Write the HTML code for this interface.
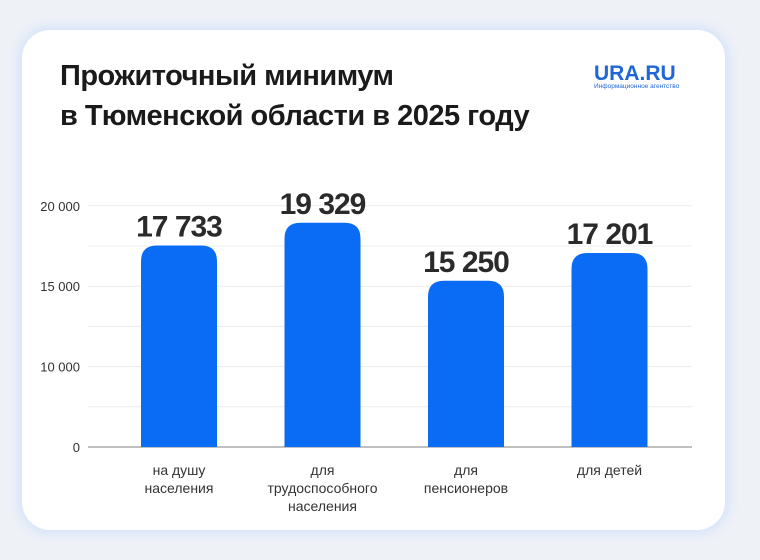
<!DOCTYPE html>
<html><head><meta charset="utf-8">
<style>
html,body{margin:0;padding:0;background:#eef1f6;}
body{width:760px;height:560px;position:relative;overflow:hidden;font-family:"Liberation Sans",sans-serif;}
.card{position:absolute;left:22px;top:30px;width:703px;height:500px;background:#fff;border-radius:28px;box-shadow:0 0 10px 4px #d6e4fb;}
.title{position:absolute;left:60px;top:56px;font-size:29px;font-weight:bold;color:#1a1a1a;line-height:40px;letter-spacing:-0.5px;}
.logo{position:absolute;left:594px;top:62px;color:#1f66d6;font-weight:bold;font-size:21px;}
.logo small{display:block;font-size:6.5px;font-weight:normal;margin-top:-3px;}
svg{position:absolute;left:0;top:0;}
</style></head><body>
<div class="card"></div>
<div class="title">Прожиточный минимум<br>в Тюменской области в 2025 году</div>
<div class="logo">URA.RU<small>Информационное агентство</small></div>
<svg id="chart" width="760" height="560"></svg>
<script>
const categories=[["на душу","населения"],["для","трудоспособного","населения"],["для","пенсионеров"],["для детей"]];
const values=[17733,19329,15250,17201];
const valueLabels=["17 733","19 329","15 250","17 201"];
const tickLabels=["0","10 000","15 000","20 000"];
const tickGridIndex=[0,2,4,6];
const NS="http://www.w3.org/2000/svg";
const svg=document.getElementById('chart');
const y0=447, vMin=3560, pxPer=0.01422;
function yScale(v){return y0-(v-vMin)*pxPer;}
function xCenter(i){return 179+i*143.5;}
function mk(t,a){const e=document.createElementNS(NS,t);for(const k in a)e.setAttribute(k,a[k]);svg.appendChild(e);return e;}
for(let g=0;g<=6;g++){
  const y=y0-g*40.2;
  const l=mk('line',{x1:88,x2:692,y1:y,y2:y,stroke:g==0?'#9a9a9a':'#ececec','stroke-width':g==0?1.2:1});
  
  
}
tickLabels.forEach((t,i)=>{
  const e=mk('text',{x:80,y:y0-tickGridIndex[i]*40.2+5,'text-anchor':'end','font-size':13,fill:'#333'});
  e.textContent=t;
  
  
});
values.forEach((v,i)=>{
  const cx=xCenter(i),w=76,top=yScale(v),r=16;
  const p=mk('path',{d:`M${cx-w/2},${y0} V${top+r} Q${cx-w/2},${top} ${cx-w/2+r},${top} H${cx+w/2-r} Q${cx+w/2},${top} ${cx+w/2},${top+r} V${y0} Z`,fill:'#0a6cf5'});
  
  
  const t=mk('text',{x:cx,y:top-9,'text-anchor':'middle','font-size':30,'font-weight':'bold',fill:'#2a2a2a','letter-spacing':'-1'});
  t.textContent=valueLabels[i];
  
  
  categories[i].forEach((ln,j)=>{
    const c=mk('text',{x:cx,y:475+j*18,'text-anchor':'middle','font-size':14,fill:'#333'});
    c.textContent=ln;
    
    
  });
});
</script>
</body></html>
